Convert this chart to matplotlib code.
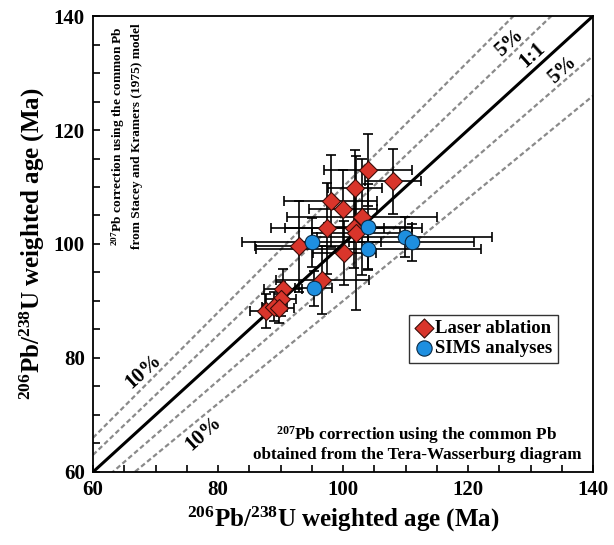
import matplotlib
matplotlib.use("Agg")
import matplotlib.pyplot as plt
from matplotlib.ticker import MultipleLocator
import numpy as np

plt.rcParams['font.family'] = ['Liberation Serif', 'DejaVu Serif']
plt.rcParams['font.weight'] = 'bold'
plt.rcParams['mathtext.fontset'] = 'custom'
plt.rcParams['mathtext.rm'] = 'Liberation Serif:bold'
plt.rcParams['mathtext.bf'] = 'Liberation Serif:bold'
plt.rcParams['mathtext.it'] = 'Liberation Serif:bold'
plt.rcParams['mathtext.default'] = 'bf'

# Laser ablation data (x age, y age, x err, y err)
la_x = [104.0, 108.0, 101.9, 98.0, 100.0, 103.1, 97.5, 101.7, 102.1, 93.0, 100.2, 96.7, 90.4, 90.0, 87.6, 89.0, 89.7]
la_y = [113.0, 111.0, 109.9, 107.5, 106.1, 104.8, 102.75, 102.75, 102.0, 99.6, 98.4, 93.7, 92.05, 90.3, 88.3, 89.0, 88.7]
la_xerr = [7.0, 4.5, 4.3, 7.4, 5.5, 12.0, 9.0, 11.0, 7.0, 7.1, 5.0, 7.5, 3.0, 2.5, 2.5, 2.0, 2.5]
la_yerr = [6.3, 5.7, 6.6, 8.1, 6.9, 10.2, 8.0, 7.0, 13.5, 8.0, 5.6, 6.0, 3.5, 3.0, 3.0, 2.5, 2.5]

# SIMS data
sims_x = [104.0, 95.0, 104.0, 109.9, 111.0, 95.3]
sims_y = [103.0, 100.3, 99.2, 101.2, 100.3, 92.2]
sims_xerr = [7.0, 11.1, 18.0, 14.0, 10.0, 3.0]
sims_yerr = [7.6, 4.3, 3.5, 3.5, 3.2, 3.0]

ref_factors = [1.10, 1.05, 0.95, 0.90]
lim = [60, 140]
ticks = [60, 80, 100, 120, 140]

fig = plt.figure(figsize=(6.14, 5.45), dpi=100)
ax = fig.add_axes([0.1515, 0.134, 0.8143, 0.8366])

xx = np.array(lim, dtype=float)
for f in ref_factors:
    ax.plot(xx, f * xx, color='#8a8a8a', lw=1.6, ls=(0, (2.2, 1.3)), zorder=1)
ax.plot(xx, xx, color='black', lw=2.2, zorder=2)

ax.errorbar(la_x, la_y, xerr=la_xerr, yerr=la_yerr, fmt='none', ecolor='black',
            elinewidth=1.2, capsize=3.5, capthick=1.2, zorder=3)
ax.errorbar(sims_x, sims_y, xerr=sims_xerr, yerr=sims_yerr, fmt='none', ecolor='black',
            elinewidth=1.2, capsize=3.5, capthick=1.2, zorder=3)
ax.scatter(la_x, la_y, marker='D', s=85, color='#d9352b', edgecolor='#3a0c08', lw=0.8,
           zorder=4, label='Laser ablation')
ax.scatter(sims_x, sims_y, marker='o', s=110, color='#1e8fe0', edgecolor='#0a2a45', lw=0.8,
           zorder=4, label='SIMS analyses')

ax.set_xlim(lim)
ax.set_ylim(lim)
ax.set_xticks(ticks)
ax.set_yticks(ticks)
ax.xaxis.set_minor_locator(MultipleLocator(5))
ax.yaxis.set_minor_locator(MultipleLocator(5))
ax.tick_params(which='both', direction='in', length=5, width=1.2, top=False, right=False,
               labelsize=15, pad=6)
for lbl in ax.get_xticklabels() + ax.get_yticklabels():
    lbl.set_fontweight('bold')
for s in ax.spines.values():
    s.set_linewidth(1.3)

ax.set_xlabel(r'$^{206}$Pb/$^{238}$U weighted age (Ma)', fontsize=18, fontweight='bold', labelpad=3)
ax.set_ylabel(r'$^{206}$Pb/$^{238}$U weighted age (Ma)', fontsize=18, fontweight='bold', labelpad=5)

rot = 42
ax.text(130.3, 133.2, '1:1', rotation=rot, fontsize=15, ha='center', va='center')
ax.text(126.6, 135.3, '5%', rotation=rot, fontsize=15, ha='center', va='center')
ax.text(135.05, 130.5, '5%', rotation=rot, fontsize=15, ha='center', va='center')
ax.text(68.0, 77.6, '10%', rotation=rot, fontsize=15, ha='center', va='center')
ax.text(77.6, 66.8, '10%', rotation=rot, fontsize=15, ha='center', va='center')

ax.text(65.3, 138.8, '$^{207}$Pb correction using the common Pb\nfrom Stacey and Kramers (1975) model',
        rotation=90, fontsize=9.6, ha='center', va='top', linespacing=1.35)
ax.text(111.8, 65.0, '$^{207}$Pb correction using the common Pb\nobtained from the Tera-Wasserburg diagram',
        fontsize=12.3, ha='center', va='center', linespacing=1.15)

leg = ax.legend(loc='upper left', bbox_to_anchor=(0.632, 0.345), frameon=True, fancybox=False,
                edgecolor='black', prop={'size': 13.5, 'weight': 'bold'}, handletextpad=0.1,
                borderpad=0.3, labelspacing=0.15, handlelength=1.0, borderaxespad=0,
                markerscale=1.05)
leg.get_frame().set_linewidth(1.0)

fig.savefig('out.png', dpi=100)
